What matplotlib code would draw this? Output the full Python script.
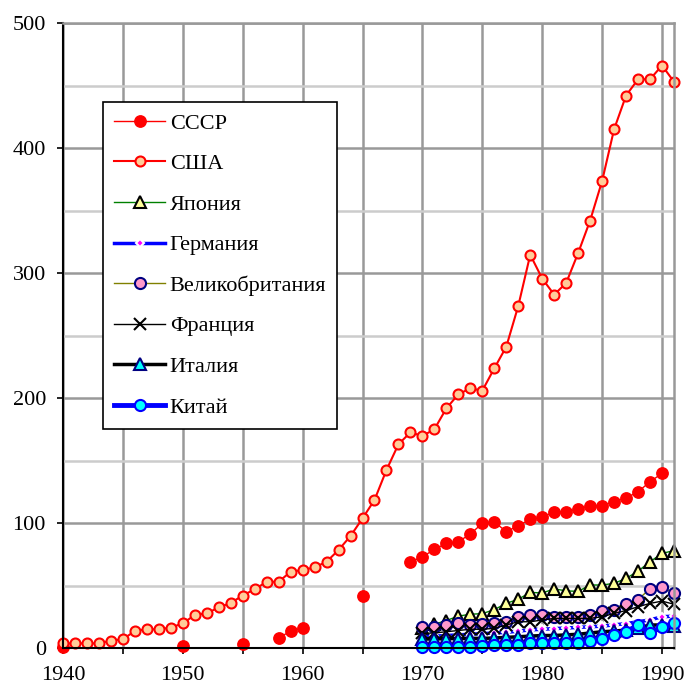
import numpy as np
import matplotlib
matplotlib.use("Agg")
import matplotlib.pyplot as plt
from matplotlib.ticker import MultipleLocator

plt.rcParams['font.family'] = ['Liberation Serif', 'DejaVu Serif']

# годы
years = np.arange(1940, 1992)
years70 = np.arange(1970, 1992)
nan = np.nan

# СССР: отдельные точки до 1969 года, потом каждый год
ussr = [0.5, nan, nan, nan, nan, nan, nan, nan, nan, nan,
        1.9, nan, nan, nan, nan, 3.5, nan, nan, 8.3, 13.3,
        16.3, nan, nan, nan, nan, 42, nan, nan, nan, 69,
        72.8, 79, 83.7, 85, 91.2, 99.7, 101, 93, 97.9, 103,
        104.5, 109, 109, 111, 113.9, 114, 117, 120, 125, 133,
        139.7, nan]

usa = [3.7, 3.7, 3.7, 3.7, 5.9, 7, 13.6, 15, 15, 16.3,
       19.7, 26.4, 27.7, 32.5, 36, 42, 47, 53, 53, 61,
       62.4, 64.5, 69, 78.4, 89.6, 103.7, 118.4, 142.4, 163, 172.5,
       169.6, 175, 191.7, 203, 207.7, 205.9, 223.7, 241, 273.6, 314.6,
       295.5, 282.7, 292, 316, 342, 373.6, 415, 442, 455, 455,
       466, 453]

japan = [16, 19, 22, 25.5, 27, 27.5, 30.7, 35.7, 39, 44.5,
         44, 47.3, 45.7, 45.3, 50.4, 50.4, 51.7, 55.7, 61.5, 69,
         75.7, 77.9]

germany = [9, 9.5, 10, 10.5, 11, 11.5, 12, 12.5, 13.5, 14.5,
           15, 15.5, 16, 16.5, 17, 17.5, 18.5, 19.5, 21, 22.5,
           25, 25.5]

uk = [17, 17, 18.4, 20, 18.4, 19, 20, 21, 24.5, 26.4,
      26.4, 24.5, 24.5, 25, 26.4, 30, 30.5, 35, 38.7, 47.5,
      49, 43.7]

france = [11.7, 12, 13, 14, 15, 15, 15.7, 18.4, 21, 21,
          22.4, 23.7, 23.7, 23.7, 23.7, 25, 27.7, 30, 33, 35.7,
          37.5, 35]

italy = [7.2, 7.2, 7.5, 7.5, 7.7, 7.7, 8, 8.5, 9, 9.5,
         10, 10, 10.5, 11, 12, 13, 13.5, 14.4, 16, 18.4,
         18.4, 17.5]

china = [0.5, 0.5, 0.5, 0.5, 0.5, 1.6, 2.4, 2.4, 2.4, 3.7,
         3.7, 3.7, 3.7, 3.7, 5.6, 7.5, 10.4, 13, 18.4, 12.2,
         17, 19.7]

fig = plt.figure(figsize=(6.87, 6.86), dpi=100)
ax = fig.add_axes([63/687, 38/686, 611/687, 625/686])

ax.plot(years, ussr, color='red', lw=1, marker='o', ms=8.2,
        mfc='red', mec='red', label='СССР', clip_on=False)
ax.plot(years, usa, color='red', lw=1.5, marker='o', ms=7.2,
        mfc='#FFCC99', mec='red', mew=1.5, label='США', clip_on=False)
ax.plot(years70, japan, color='#008000', lw=1, marker='^', ms=8.5,
        mfc='#FFFF99', mec='black', mew=1.5, label='Япония', clip_on=False)
ax.plot(years70, germany, color='blue', lw=2.5, marker='D', ms=4.5,
        mfc='#FF00FF', mec='white', mew=1.5, label='Германия', clip_on=False)
ax.plot(years70, uk, color='#808000', lw=1, marker='o', ms=8,
        mfc='#FF99CC', mec='#000080', mew=1.5, label='Великобритания', clip_on=False)
ax.plot(years70, france, color='black', lw=1, marker='x', ms=8.5,
        mec='black', mew=1.5, label='Франция', clip_on=False)
ax.plot(years70, italy, color='black', lw=2.5, marker='^', ms=8.5,
        mfc='cyan', mec='#000080', mew=1.5, label='Италия', clip_on=False)
ax.plot(years70, china, color='blue', lw=3.5, marker='o', ms=8,
        mfc='cyan', mec='blue', mew=1.5, label='Китай', clip_on=False)

ax.set_xlim(1940, 1991)
ax.set_ylim(0, 500)
ax.xaxis.set_major_locator(MultipleLocator(10))
ax.xaxis.set_minor_locator(MultipleLocator(5))
ax.yaxis.set_major_locator(MultipleLocator(100))
ax.yaxis.set_minor_locator(MultipleLocator(50))

ax.grid(True, which='major', axis='both', color='#999999', lw=1.8)
ax.grid(True, which='minor', axis='x', color='#999999', lw=1.8)
ax.grid(True, which='minor', axis='y', color='#cccccc', lw=1.8)
ax.set_axisbelow(True)

ax.tick_params(axis='x', which='major', direction='out', length=4.3,
               width=1.2, labelsize=16, pad=9, color='black')
ax.tick_params(axis='y', which='major', direction='out', length=4.3,
               width=1.2, labelsize=16, pad=8, color='black')
ax.tick_params(axis='x', which='minor', direction='out', length=4.3,
               width=1.2, color='black')
ax.tick_params(axis='y', which='minor', length=0)

for s in ['left', 'bottom']:
    ax.spines[s].set_color('black')
    ax.spines[s].set_linewidth(1.5)
for s in ['top', 'right']:
    ax.spines[s].set_color('#999999')
    ax.spines[s].set_linewidth(1.8)

leg = ax.legend(loc='upper left', bbox_to_anchor=((103 - 63) / 611, (648 - 102) / 625),
                fontsize=16, frameon=True, fancybox=False, framealpha=1,
                edgecolor='black', handlelength=2.3, handletextpad=0.2,
                labelspacing=0.9, borderpad=0.5, borderaxespad=0)
leg.get_frame().set_linewidth(1.2)

fig.savefig('out.png', dpi=100)
